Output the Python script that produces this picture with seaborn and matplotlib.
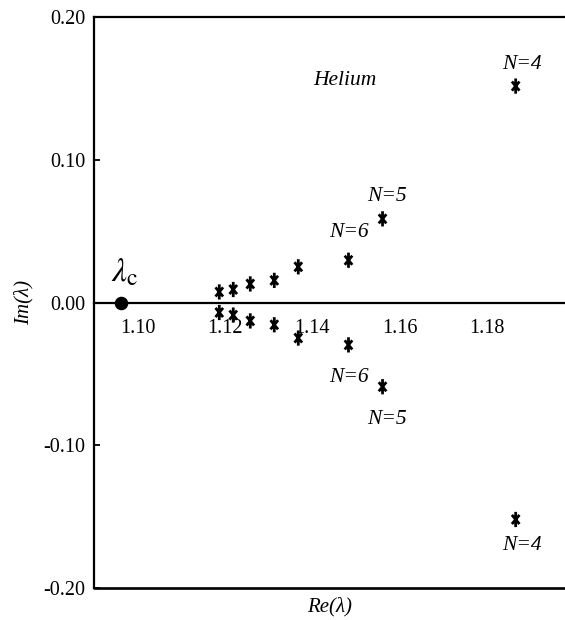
import matplotlib
matplotlib.use("Agg")
import matplotlib.pyplot as plt
from matplotlib.path import Path
import seaborn as sns
import pandas as pd

# ---- data ----
lambda_c_re = [1.0961]
lambda_c_im = [0.0]

star_re = [1.1187, 1.1219, 1.1258, 1.1313, 1.1368, 1.1483, 1.1561, 1.1866,
           1.1187, 1.1219, 1.1258, 1.1313, 1.1368, 1.1483, 1.1561, 1.1866]
star_im = [0.0074, 0.0091, 0.0130, 0.0155, 0.0250, 0.0296, 0.0586, 0.1516,
           -0.0070, -0.0088, -0.0129, -0.0156, -0.0249, -0.0297, -0.0590, -0.1520]

x_ticks = [1.10, 1.12, 1.14, 1.16, 1.18]
x_tick_labels = ["1.10", "1.12", "1.14", "1.16", "1.18"]
y_ticks = [-0.20, -0.10, 0.00, 0.10, 0.20]
y_tick_labels = ["-0.20", "-0.10", "0.00", "0.10", "0.20"]

labels_text = ["Helium", "N=4", "N=5", "N=6", "N=6", "N=5", "N=4"]
labels_x = [1.1474, 1.1881, 1.1572, 1.1485, 1.1485, 1.1572, 1.1881]
labels_y = [0.1555, 0.1667, 0.0741, 0.0489, -0.0528, -0.0822, -0.1700]

sns.set_style("white")
plt.rcParams["font.family"] = ["Liberation Serif", "DejaVu Serif"]
plt.rcParams["mathtext.fontset"] = "stix"
plt.rcParams["text.color"] = "black"
plt.rcParams["xtick.color"] = "black"
plt.rcParams["ytick.color"] = "black"

# narrow asterisk marker (vertical bar with two diagonals)
star_marker = Path(
    [(0, -1), (0, 1), (-0.5, -0.6), (0.5, 0.6), (-0.5, 0.6), (0.5, -0.6)],
    [Path.MOVETO, Path.LINETO, Path.MOVETO, Path.LINETO, Path.MOVETO, Path.LINETO],
)

fig = plt.figure(figsize=(5.65, 6.2), dpi=100)
ax = fig.add_axes([94 / 565, 32 / 620, 471 / 565, 571 / 620])

df_stars = pd.DataFrame({"re": star_re, "im": star_im})
df_c = pd.DataFrame({"re": lambda_c_re, "im": lambda_c_im})

sns.scatterplot(data=df_stars, x="re", y="im", marker=star_marker, s=120,
                color="black", edgecolor="black", linewidth=2.0, ax=ax,
                clip_on=False, zorder=5)
ax.collections[-1].set_facecolor("none")
sns.scatterplot(data=df_c, x="re", y="im", marker="o", s=95,
                color="black", edgecolor="black", linewidth=0, ax=ax,
                clip_on=False, zorder=5)

ax.set_xlim(1.09, 1.1979)
ax.set_ylim(-0.20, 0.20)

# spines
lw = 1.6
for s in ["left", "top", "bottom"]:
    ax.spines[s].set_linewidth(lw)
    ax.spines[s].set_color("black")
ax.spines["right"].set_visible(False)
ax.spines["bottom"].set_position(("data", 0))
ax.axhline(-0.20, color="black", linewidth=lw * 1.2, clip_on=False, zorder=4)

ax.set_xticks(x_ticks)
ax.set_xticklabels(x_tick_labels)
ax.set_yticks(y_ticks)
ax.set_yticklabels(y_tick_labels)
ax.tick_params(axis="x", direction="inout", length=11.5, width=1.2,
               labelsize=14.5, pad=6)
ax.tick_params(axis="y", direction="in", length=4.5, width=1.3,
               labelsize=14.5, pad=6, left=True)
ax.set_xlabel("")
ax.set_ylabel("")

ax.text(0.501, -0.032, "Re(λ)", transform=ax.transAxes, ha="center",
        va="center", fontsize=15, style="italic")
ax.text(-0.149, 0.5, "Im(λ)", transform=ax.transAxes, ha="center",
        va="center", fontsize=15, style="italic", rotation=90)

for t, x, y in zip(labels_text, labels_x, labels_y):
    ax.text(x, y, t, ha="center", va="center", fontsize=15.5, style="italic")

ax.text(1.0970, 0.0208, r"$\lambda_{\mathcal{c}}$", ha="center", va="center",
        fontsize=24)

fig.savefig("out.png", dpi=100)
